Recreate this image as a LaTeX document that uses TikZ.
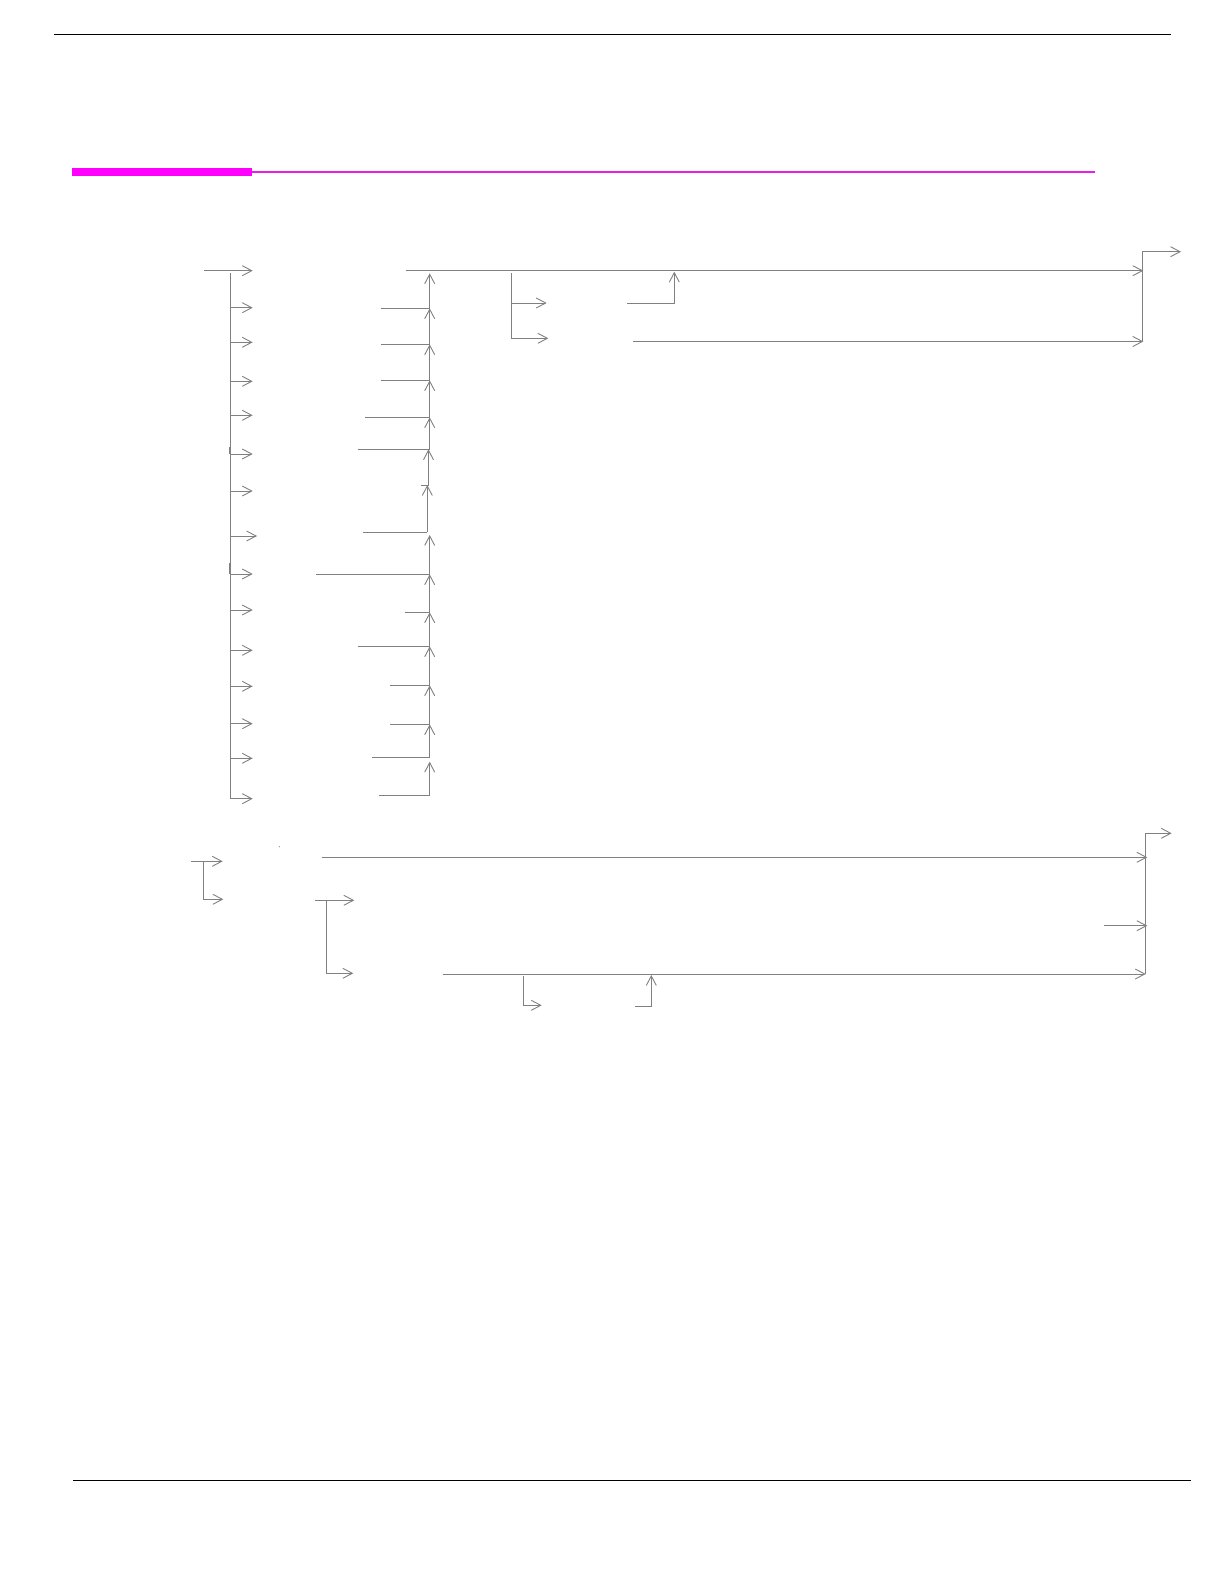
\documentclass[tikz,border=0pt]{standalone}
\usetikzlibrary{arrows.meta}
\definecolor{linegray}{RGB}{128,128,128}
\definecolor{headmag}{RGB}{255,0,255}
\definecolor{thinmag}{RGB}{230,30,230}
\begin{document}
\begin{tikzpicture}[x=1pt,y=-1pt,
  conn/.style={draw=linegray,line width=0.9pt},
  arr/.style={conn,-{Straight Barb[length=9.5pt,width=10pt,line width=0.9pt]}},
  rulebar/.style={draw=black,line width=1.3pt}]
\useasboundingbox (0,0) rectangle (1224,1582);

% page rules
\coordinate (rt1) at (54,34.3);   \coordinate (rt2) at (1170.7,34.3);
\coordinate (rb1) at (73.3,1480.7); \coordinate (rb2) at (1190.7,1480.7);
\draw[rulebar] (rt1) -- (rt2);
\draw[rulebar] (rb1) -- (rb2);

% magenta heading bar
\fill[headmag] (72,168) rectangle (252,175.7);
\coordinate (mg1) at (252,171.7); \coordinate (mg2) at (1094.7,171.7);
\draw[thinmag,line width=1.8pt] (mg1) -- (mg2);

% ---------- group 1 : left bus ----------
\coordinate (in1) at (204,270.7); \coordinate (in1t) at (252.7,270.7);
\draw[arr] (in1) -- (in1t);
\coordinate (lbtop) at (230.5,273); \coordinate (lbbot) at (230.5,798.7);
\draw[conn] (lbtop) -- (lbbot);
\foreach \y/\t [count=\i] in {307.7/252.7,342.3/252.7,381.3/252.7,415.3/252.7,454/252.7,491/252.7,536/257,574/252.7,610/252.7,650.3/252.7,686.3/252.7,723.7/252.7,758.3/252.7,798.7/252.7}{
  \coordinate (L\i) at (230.5,\y);
  \coordinate (Lt\i) at (\t,\y);
  \draw[arr] (L\i) -- (Lt\i);
}
% small overlaps on the left bus
\coordinate (g1a) at (230,446.5); \coordinate (g1b) at (230,454);
\coordinate (g2a) at (230,563.3); \coordinate (g2b) at (230,573.7);
\draw[linegray,line width=1.6pt] (g1a) -- (g1b);
\draw[linegray,line width=1.6pt] (g2a) -- (g2b);

% ---------- group 1 : right collecting bus ----------
\foreach \xl/\y/\b/\t [count=\i] in {381/308.3/429.7/273.3,381/344.3/429.7/308.3,381/380.3/429.7/344.3,365/417.3/429.7/380.3,358.3/449.3/429.7/417.3,420.7/485/428.5/449.3,363.3/532.3/427.3/485,316/574.3/429.7/535,405.3/612.3/429.7/574.3,358.3/646.3/429.7/612.3,390/685.3/429.7/646.3,390/724.3/429.7/685.3,372.3/757/429.7/724.3,379/795.3/429.7/761.7}{
  \coordinate (R\i) at (\xl,\y);
  \coordinate (Rb\i) at (\b,\y);
  \coordinate (Ru\i) at (\b,\t);
  \draw[conn] (R\i) -- (Rb\i);
  \draw[arr] (Rb\i) -- (Ru\i);
}

% main output line
\coordinate (m1) at (406,270.7); \coordinate (m1t) at (1143.3,270.7);
\draw[arr] (m1) -- (m1t);
% sub branch
\coordinate (s0) at (511.3,273.3); \coordinate (s1) at (511.3,303); \coordinate (s2) at (511.3,338.3);
\coordinate (s1t) at (546.7,303); \coordinate (s2t) at (548.3,338.3);
\draw[conn] (s0) -- (s2);
\draw[arr] (s1) -- (s1t);
\draw[arr] (s2) -- (s2t);
\coordinate (s3) at (627,303); \coordinate (s3c) at (674.3,303); \coordinate (s3t) at (674.3,271.7);
\draw[arr] (s3) -- (s3c) -- (s3t);
\coordinate (s4) at (633,341.5); \coordinate (s4t) at (1143.3,341.5);
\draw[arr] (s4) -- (s4t);
% right exit
\coordinate (e1a) at (1142.3,341.7); \coordinate (e1b) at (1142.3,251.7); \coordinate (e1t) at (1181,251.7);
\draw[arr] (e1a) -- (e1b) -- (e1t);

% ---------- group 2 ----------
\coordinate (in2) at (191,861.3); \coordinate (in2t) at (222.7,861.3);
\coordinate (in2v) at (203.3,861.3); \coordinate (in2c) at (203.3,899.3); \coordinate (in2u) at (223.3,899.3);
\draw[arr] (in2) -- (in2t);
\draw[arr] (in2v) -- (in2c) -- (in2u);
\fill[linegray] (279.3,846.7) circle (0.6pt);
\coordinate (h1) at (322,857.3); \coordinate (h1t) at (1147.3,857.3);
\draw[arr] (h1) -- (h1t);
\coordinate (b1) at (315,900.3); \coordinate (b1t) at (354.3,900.3);
\coordinate (b1v) at (326.3,900.3); \coordinate (b1c) at (326.3,973.3); \coordinate (b1u) at (353.3,973.3);
\draw[arr] (b1) -- (b1t);
\draw[arr] (b1v) -- (b1c) -- (b1u);
\coordinate (h2) at (442.7,974); \coordinate (h2t) at (1145.7,974);
\draw[arr] (h2) -- (h2t);
\coordinate (c1) at (523.3,976); \coordinate (c1c) at (523.3,1005.3); \coordinate (c1t) at (541.7,1005.3);
\draw[arr] (c1) -- (c1c) -- (c1t);
\coordinate (c2) at (635,1006.3); \coordinate (c2c) at (651.3,1006.3); \coordinate (c2t) at (651.3,975);
\draw[arr] (c2) -- (c2c) -- (c2t);
\coordinate (h3) at (1104,925.7); \coordinate (h3t) at (1147.3,925.7);
\draw[arr] (h3) -- (h3t);
\coordinate (e2a) at (1145.7,974); \coordinate (e2b) at (1145.7,833.3); \coordinate (e2t) at (1171.7,833.3);
\draw[arr] (e2a) -- (e2b) -- (e2t);
\end{tikzpicture}
\end{document}
